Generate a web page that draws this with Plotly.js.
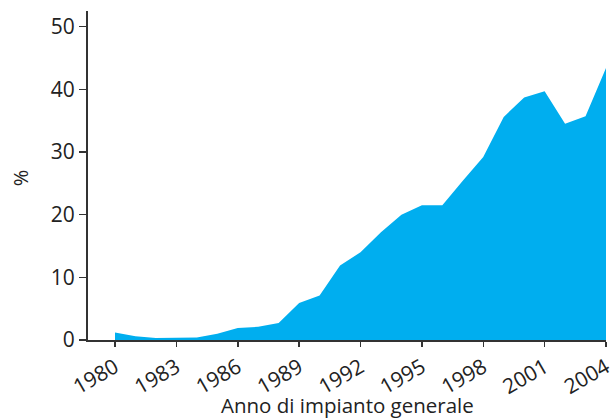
<!DOCTYPE html>
<html>
<head>
<meta charset="utf-8">
<script src="https://cdn.plot.ly/plotly-3.0.1.min.js"></script>
<style>html,body{margin:0;padding:0;background:#fff;}#chart{width:614px;height:419px;}</style>
</head>
<body>
<div id="chart"></div>
<script>
var years = [1980,1981,1982,1983,1984,1985,1986,1987,1988,1989,1990,1991,1992,1993,1994,1995,1996,1997,1998,1999,2000,2001,2002,2003,2004];
var percent = [1.2,0.6,0.3,0.4,0.4,1.0,1.9,2.1,2.7,5.9,7.1,11.9,14.0,17.2,20.0,21.5,21.5,25.4,29.2,35.6,38.7,39.7,34.5,35.7,43.4];
var xTicks = [1980,1983,1986,1989,1992,1995,1998,2001,2004];
var yTicks = [0,10,20,30,40,50];
var xTitle = 'Anno di impianto generale';
var yTitle = '%';

var fontFam = '"Open Sans", "Noto Sans", sans-serif';
Plotly.newPlot('chart', [{
  x: years, y: percent, type: 'scatter', mode: 'lines',
  fill: 'tozeroy', fillcolor: '#00AEEF', line: {width: 0, color: '#00AEEF'},
  hoverinfo: 'skip'
}], {
  width: 614, height: 419,
  margin: {l: 88, r: 8, t: 11, b: 79},
  paper_bgcolor: '#fff', plot_bgcolor: '#fff',
  showlegend: false,
  font: {family: fontFam, color: '#222', size: 21},
  xaxis: {
    range: [1978.68, 2004], tickvals: xTicks, ticktext: xTicks.map(String),
    tickangle: -30, ticks: 'outside', ticklen: 5, tickwidth: 1.5, tickcolor: '#333',
    ticklabeloverflow: 'allow',
    showline: true, linecolor: '#333', linewidth: 2, showgrid: false, zeroline: false,
    tickfont: {size: 21, color: '#222'}
  },
  yaxis: {
    range: [0, 52.5], tickvals: yTicks, ticks: 'outside', ticklen: 7, tickwidth: 1.5, tickcolor: '#333',
    showline: true, linecolor: '#333', linewidth: 2, showgrid: false, zeroline: false,
    tickfont: {size: 21, color: '#222'}
  },
  annotations: [
    {text: xTitle, xref: 'paper', yref: 'paper', x: 0.5, y: 0, xanchor: 'center', yanchor: 'middle',
     yshift: -65, showarrow: false, font: {size: 20.5, color: '#222'}},
    {text: yTitle, xref: 'paper', yref: 'paper', x: 0, y: 0.492, xanchor: 'center', yanchor: 'middle',
     xshift: -68, textangle: -90, showarrow: false, font: {size: 20, color: '#222'}}
  ]
}, {displayModeBar: false, staticPlot: true});
</script>
</body>
</html>
